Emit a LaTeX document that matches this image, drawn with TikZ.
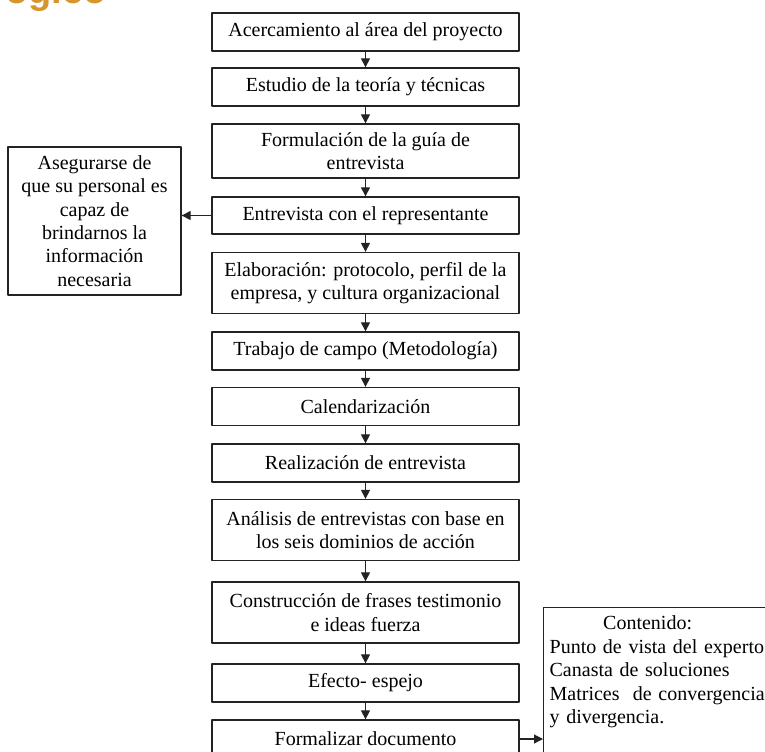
\documentclass[tikz,border=0pt]{standalone}
\usepackage{fontspec}
\setmainfont{Liberation Serif}
\newfontfamily\titulofont{Liberation Sans}
\usetikzlibrary{arrows.meta,positioning}

\definecolor{naranja}{RGB}{214,150,46}
\definecolor{trazo}{RGB}{35,35,35}

\tikzset{
  paso/.style={draw=trazo, line width=1.3bp, minimum width=307bp, minimum height=38bp,
    align=center, inner sep=2bp, font=\fontsize{20bp}{23.5bp}\selectfont},
  doble/.style={minimum height=61bp},
  nota/.style={draw=trazo, line width=1.3bp, minimum width=173bp, minimum height=148bp,
    align=center, inner sep=0bp, font=\fontsize{20bp}{23.3bp}\selectfont},
  contenido/.style={draw=trazo, line width=1.3bp, text width=240bp, text depth=160bp,
    align=left, inner xsep=6bp, inner ysep=8bp, font=\fontsize{20bp}{23.5bp}\selectfont}
}

\begin{document}
\begin{tikzpicture}[x=1bp, y=-1bp, line join=round, >={Stealth[length=9bp,width=9bp,inset=0pt]}]
  \useasboundingbox (0,0) rectangle (765,752);
  \clip (0,0) rectangle (765,752);

  % titulo cortado
  \node[anchor=base east, inner sep=0pt, text=naranja, font=\titulofont\bfseries\fontsize{38bp}{40bp}\selectfont] (titulo) at (107,4) {ogico};

  % columna principal
  \node[paso] (p1) at (365.5,32) {Acercamiento al área del proyecto};
  \node[paso] (p2) at (365.5,87) {Estudio de la teoría y técnicas};
  \node[paso, minimum height=54bp] (p3) at (365.5,151) {Formulación de la guía de\\ entrevista};
  \node[paso, minimum height=37bp] (p4) at (365.5,215.5) {Entrevista con el representante};
  \node[paso, doble] (p5) at (365.5,283) {Elaboración: protocolo, perfil de la\\ empresa, y cultura organizacional};
  \node[paso] (p6) at (365.5,351) {Trabajo de campo (Metodología)};
  \node[paso] (p7) at (365.5,406.5) {Calendarización};
  \node[paso] (p8) at (365.5,463) {Realización de entrevista};
  \node[paso, doble] (p9) at (365.5,530) {Análisis de entrevistas con base en\\ los seis dominios de acción};
  \node[paso, doble] (p10) at (365.5,612.5) {Construcción de frases testimonio\\ e ideas fuerza};
  \node[paso] (p11) at (365.5,683) {Efecto- espejo};
  \node[paso] (p12) at (365.5,739) {Formalizar documento};

  % cajas laterales
  \node[nota] (nota) at (94.5,221) {Asegurarse de\\ que su personal es\\ capaz de\\ brindarnos la\\ información\\ necesaria};
  \node[contenido, anchor=north west] (info) at (543,607)
    {\makebox[196bp]{Contenido:}\\
     Punto de vista del experto\\
     Canasta de soluciones\\
     Matrices\ \ de convergencia\\
     y divergencia.};

  % flechas
  \foreach \a/\b in {p1/p2, p2/p3, p3/p4, p4/p5, p5/p6, p6/p7, p7/p8, p8/p9, p9/p10, p10/p11, p11/p12}
    \draw[->, trazo, line width=1.2bp] (\a) -- (\b);
  \draw[->, trazo, line width=1.2bp] (p4.west) -- (p4.west -| nota.east);
  \draw[->, trazo, line width=1.2bp] (p12.east) -- (p12.east -| info.west);
\end{tikzpicture}
\end{document}
